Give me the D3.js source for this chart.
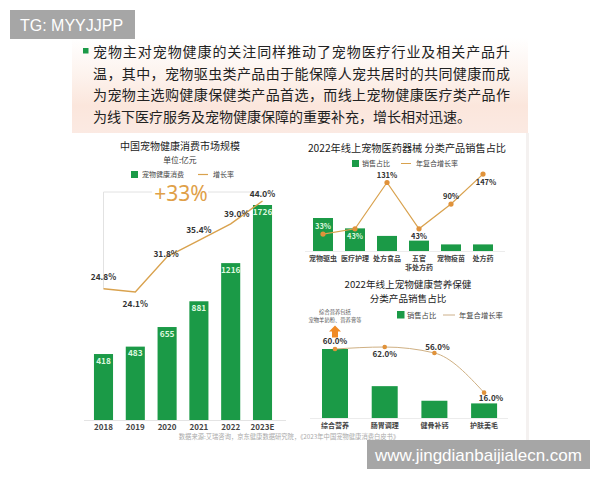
<!DOCTYPE html>
<html><head><meta charset="utf-8">
<script src="https://cdn.jsdelivr.net/npm/d3@7"></script>
<style>
body{margin:0;background:#fff}
svg{display:block}
text{font-family:"Noto Sans CJK SC","Noto Sans",sans-serif}
</style>
</head><body>
<svg id="c" width="600" height="480"></svg>
<script>
// ---------- data ----------
const introLines = [
  "宠物主对宠物健康的关注同样推动了宠物医疗行业及相关产品升",
  "温，其中，宠物驱虫类产品由于能保障人宠共居时的共同健康而成",
  "为宠物主选购健康保健类产品首选，而线上宠物健康医疗类产品作",
  "为线下医疗服务及宠物健康保障的重要补充，增长相对迅速。"
];
const marketYears = ["2018","2019","2020","2021","2022","2023E"];
const marketValues = [418,483,655,881,1216,1726];
const marketGrowth = [24.8,24.1,31.8,35.4,39.0,44.0];
const marketGrowthLabels = ["24.8%","24.1%","31.8%","35.4%","39.0%","44.0%"];

const medCategories = [["宠物驱虫"],["医疗护理"],["处方食品"],["五官","非处方药"],["宠物疫苗"],["处方药"]];
const medShare = [35,24,16,11,7,7];
const medCagr = [33,43,131,43,90,147];
const medCagrLabels = ["33%","43%","131%","43%","90%","147%"];

const nutTitle = ["2022年线上宠物健康营养保健","分类产品销售占比"];
const nutCategories = ["综合营养","肠胃调理","健骨补钙","护肤美毛"];
const nutShare = [52,24,13,11];
const nutCagr = [60,62,56,16];
const nutCagrLabels = ["60.0%","62.0%","56.0%","16.0%"];

const sourceText = "数据来源:艾瑞咨询，京东健康数据研究院，《2023年中国宠物健康消费白皮书》";

// ---------- styles ----------
const GREEN = "#1b9a47", GOLD = "#d9a24e", DOT = "#e0923a";
const svg = d3.select("#c");
const defs = svg.append("defs");
const g1 = defs.append("linearGradient").attr("id","bg").attr("x1",0).attr("y1",0).attr("x2",0).attr("y2",1);
[[0,"#ffffff"],[0.35,"#fdf4ef"],[0.7,"#fbe6dc"],[1,"#fbeae3"]].forEach(s=>g1.append("stop").attr("offset",s[0]).attr("stop-color",s[1]));

// slide background
svg.append("rect").attr("x",72).attr("y",38).attr("width",456).attr("height",97).attr("fill","url(#bg)");
svg.append("rect").attr("x",72).attr("y",133).attr("width",454).attr("height",307).attr("fill","#fff");
svg.append("rect").attr("x",526).attr("y",133).attr("width",3).attr("height",307).attr("fill","#f4f1f0");

// watermark top
svg.append("rect").attr("x",10).attr("y",10).attr("width",125).attr("height",29).attr("fill","#a6a6a6");
svg.append("text").attr("x",20).attr("y",31).attr("font-size",16).attr("fill","#fff")
  .style("font-family","'Liberation Sans',Arial,sans-serif").text("TG: MYYJJPP");

// intro text
svg.append("rect").attr("x",83).attr("y",48).attr("width",5.5).attr("height",5.5).attr("fill",GREEN);
introLines.forEach((t,i)=>{
  const tx = svg.append("text").attr("x",93).attr("y",57+i*21.6).attr("font-size",14).attr("fill","#222").text(t);
  if(i<3) tx.attr("textLength",417).attr("lengthAdjust","spacing");
});

// ================= Chart 1: market size =================
const x1 = d3.scaleBand().domain(marketYears).range([87.6,278.4]).paddingInner(0.4).paddingOuter(0.2);
const y1 = d3.scaleLinear().domain([-161,1726]).range([420,205]);
const g1r = d3.scaleLinear().domain([0,44]).range([402,201]);
const c1 = svg.append("g");
c1.append("text").attr("x",180).attr("y",150).attr("text-anchor","middle").attr("font-size",10).attr("fill","#222").text("中国宠物健康消费市场规模");
c1.append("text").attr("x",180).attr("y",163).attr("text-anchor","middle").attr("font-size",7.8).attr("fill","#333").text("单位:亿元");
c1.append("rect").attr("x",131).attr("y",171).attr("width",7).attr("height",7).attr("fill",GREEN);
c1.append("text").attr("x",142).attr("y",177).attr("font-size",7).attr("fill","#444").text("宠物健康消费");
c1.append("line").attr("x1",198).attr("x2",208).attr("y1",174.5).attr("y2",174.5).attr("stroke",GOLD).attr("stroke-width",1.2);
c1.append("text").attr("x",213).attr("y",177).attr("font-size",7).attr("fill","#444").text("增长率");

// axis line
c1.append("line").attr("x1",84).attr("x2",286).attr("y1",420.5).attr("y2",420.5).attr("stroke","#e4e4e4");
// bracket
const bx0 = x1("2018")+x1.bandwidth()/2, bx1 = x1("2023E")+x1.bandwidth()/2;
c1.append("path").attr("d",`M${bx0},${g1r(marketGrowth[0])} V192 H152 M208,192 H${bx1} V197`)
  .attr("fill","none").attr("stroke","#e2e2e2").attr("stroke-width",1);
c1.append("text").attr("x",181).attr("y",201).attr("text-anchor","middle").attr("font-size",21)
  .style("font-family","'Noto Sans',sans-serif").attr("fill","#e0a048").text("+33%");

// bars
c1.selectAll(".b1").data(marketValues).join("rect")
  .attr("x",(d,i)=>x1(marketYears[i])).attr("width",x1.bandwidth())
  .attr("y",d=>y1(d)).attr("height",d=>420-y1(d)).attr("fill",GREEN);
c1.selectAll(".bl1").data(marketValues).join("text")
  .attr("x",(d,i)=>x1(marketYears[i])+x1.bandwidth()/2).attr("y",d=>y1(d)+9.5)
  .attr("text-anchor","middle").attr("font-size",8.3).attr("font-weight","bold").attr("fill","#dcf7de").text(d=>d);
// x labels
c1.selectAll(".xl1").data(marketYears).join("text")
  .attr("x",d=>x1(d)+x1.bandwidth()/2).attr("y",429.5).attr("text-anchor","middle")
  .attr("font-size",8).attr("font-weight","bold").attr("fill","#444").text(d=>d);
// growth line
const line1 = d3.line().x((d,i)=>x1(marketYears[i])+x1.bandwidth()/2).y(d=>g1r(d));
c1.append("path").attr("d",line1(marketGrowth)).attr("fill","none").attr("stroke",GOLD).attr("stroke-width",1.4);
const off1 = [[0,-9],[0,15],[-1,0],[0,-7],[6,-7],[0,-4]];
c1.selectAll(".gl1").data(marketGrowthLabels).join("text")
  .attr("x",(d,i)=>x1(marketYears[i])+x1.bandwidth()/2+off1[i][0])
  .attr("y",(d,i)=>g1r(marketGrowth[i])+off1[i][1])
  .attr("text-anchor","middle").attr("font-size",8.3).attr("font-weight","bold").attr("fill","#333").text(d=>d);

// ================= Chart 2: medical =================
const x2 = d3.scaleBand().domain(d3.range(medShare.length)).range([303.4,502.6]).paddingInner(0.375).paddingOuter(0.3);
const y2 = d3.scaleLinear().domain([0,35]).range([251,218]);
const c2r = d3.scaleLinear().domain([0,100]).range([251.4,198.8]);
const c2 = svg.append("g");
c2.append("text").attr("x",407).attr("y",152).attr("text-anchor","middle").attr("font-size",10.2).attr("fill","#222").text("2022年线上宠物医药器械 分类产品销售占比");
c2.append("rect").attr("x",352).attr("y",160).attr("width",7).attr("height",7).attr("fill",GREEN);
c2.append("text").attr("x",362).attr("y",166).attr("font-size",7).attr("fill","#444").text("销售占比");
c2.append("line").attr("x1",401).attr("x2",411).attr("y1",163.5).attr("y2",163.5).attr("stroke",GOLD).attr("stroke-width",1);
c2.append("text").attr("x",416).attr("y",166).attr("font-size",7).attr("fill","#444").text("年复合增长率");
c2.append("line").attr("x1",305).attr("x2",505).attr("y1",251.5).attr("y2",251.5).attr("stroke","#ececec");
c2.selectAll(".b2").data(medShare).join("rect")
  .attr("x",(d,i)=>x2(i)).attr("width",x2.bandwidth()).attr("y",d=>y2(d)).attr("height",d=>251-y2(d)).attr("fill",GREEN);
c2.selectAll(".xl2").data(medCategories).join("text")
  .attr("x",(d,i)=>x2(i)+x2.bandwidth()/2).attr("y",261).attr("text-anchor","middle")
  .attr("font-size",7).attr("font-weight","bold").attr("fill","#444")
  .each(function(d){ d.forEach((s,k)=>d3.select(this).append("tspan").attr("x",d3.select(this).attr("x")).attr("dy",k?9:0).text(s)); });
const line2 = d3.line().x((d,i)=>x2(i)+x2.bandwidth()/2).y(d=>c2r(d));
c2.append("path").attr("d",line2(medCagr)).attr("fill","none").attr("stroke",GOLD).attr("stroke-width",1.2);
c2.selectAll(".d2").data(medCagr).join("circle")
  .attr("cx",(d,i)=>x2(i)+x2.bandwidth()/2).attr("cy",d=>c2r(d)).attr("r",2.6).attr("fill",DOT);
const off2 = [-5,10,-4,10,-5,11];
c2.selectAll(".gl2").data(medCagrLabels).join("text")
  .attr("x",(d,i)=>x2(i)+x2.bandwidth()/2+(i===5?3:0)).attr("y",(d,i)=>c2r(medCagr[i])+off2[i])
  .attr("text-anchor","middle").attr("font-size",7.5).attr("font-weight","bold")
  .attr("fill",(d,i)=>i<2?"#d9f5dc":"#333").text(d=>d);

// ================= Chart 3: nutrition =================
const x3 = d3.scaleBand().domain(d3.range(nutShare.length)).range([307.1,512]).paddingInner(0.477).paddingOuter(0.3);
const y3 = d3.scaleLinear().domain([0,52]).range([418,349]);
const c3r = d3.scaleLinear().domain([0,60]).range([408.5,349]);
const c3 = svg.append("g");
nutTitle.forEach((s,k)=>c3.append("text").attr("x",408).attr("y",288+k*14.2).attr("text-anchor","middle")
  .attr("font-size",9.6).attr("fill","#222").text(s));
c3.append("text").attr("x",335).attr("y",314).attr("text-anchor","middle").attr("font-size",5.3).attr("fill","#555").text("综合营养包括");
c3.append("text").attr("x",335).attr("y",322).attr("text-anchor","middle").attr("font-size",5.3).attr("fill","#555").text("宠物羊奶粉、营养膏等");
c3.append("path").attr("d","M335,325.5 L341,331.5 L338,331.5 L338,337.5 L332,337.5 L332,331.5 L329,331.5 Z").attr("fill","#f08a24");
c3.append("rect").attr("x",397).attr("y",311).attr("width",7.5).attr("height",7.5).attr("fill",GREEN);
c3.append("text").attr("x",407).attr("y",317.5).attr("font-size",7.3).attr("fill","#444").text("销售占比");
c3.append("line").attr("x1",443).attr("x2",455).attr("y1",315).attr("y2",315).attr("stroke","#cdb08a").attr("stroke-width",1);
c3.append("text").attr("x",459).attr("y",317.5).attr("font-size",7.3).attr("fill","#444").text("年复合增长率");
c3.append("line").attr("x1",310).attr("x2",508).attr("y1",418.5).attr("y2",418.5).attr("stroke","#ececec");
c3.selectAll(".b3").data(nutShare).join("rect")
  .attr("x",(d,i)=>x3(i)).attr("width",x3.bandwidth()).attr("y",d=>y3(d)).attr("height",d=>418-y3(d)).attr("fill",GREEN);
c3.selectAll(".xl3").data(nutCategories).join("text")
  .attr("x",(d,i)=>x3(i)+x3.bandwidth()/2).attr("y",428).attr("text-anchor","middle")
  .attr("font-size",7).attr("font-weight","bold").attr("fill","#444").text(d=>d);
const line3 = d3.line().x((d,i)=>x3(i)+x3.bandwidth()/2).y(d=>c3r(d)).curve(d3.curveMonotoneX);
c3.append("path").attr("d",line3(nutCagr)).attr("fill","none").attr("stroke","#cfb083").attr("stroke-width",1);
c3.selectAll(".d3").data(nutCagr).join("circle")
  .attr("cx",(d,i)=>x3(i)+x3.bandwidth()/2).attr("cy",d=>c3r(d)).attr("r",2.3).attr("fill",DOT);
const off3 = [[0,-5],[0,10],[3,-3],[7,8.5]];
c3.selectAll(".gl3").data(nutCagrLabels).join("text")
  .attr("x",(d,i)=>x3(i)+x3.bandwidth()/2+off3[i][0]).attr("y",(d,i)=>c3r(nutCagr[i])+off3[i][1])
  .attr("text-anchor","middle").attr("font-size",8).attr("font-weight","bold").attr("fill","#333").text(d=>d);

// source
svg.append("text").attr("x",289).attr("y",439).attr("text-anchor","middle").attr("font-size",6.3).attr("fill","#aaa").text(sourceText);

// watermark bottom
svg.append("rect").attr("x",367).attr("y",440).attr("width",223).attr("height",29).attr("fill","#a6a6a6");
svg.append("text").attr("x",478.5).attr("y",461).attr("text-anchor","middle").attr("font-size",17).attr("fill","#fff")
  .style("font-family","'Liberation Sans',Arial,sans-serif").text("www.jingdianbaijialecn.com");
</script>
</body></html>
